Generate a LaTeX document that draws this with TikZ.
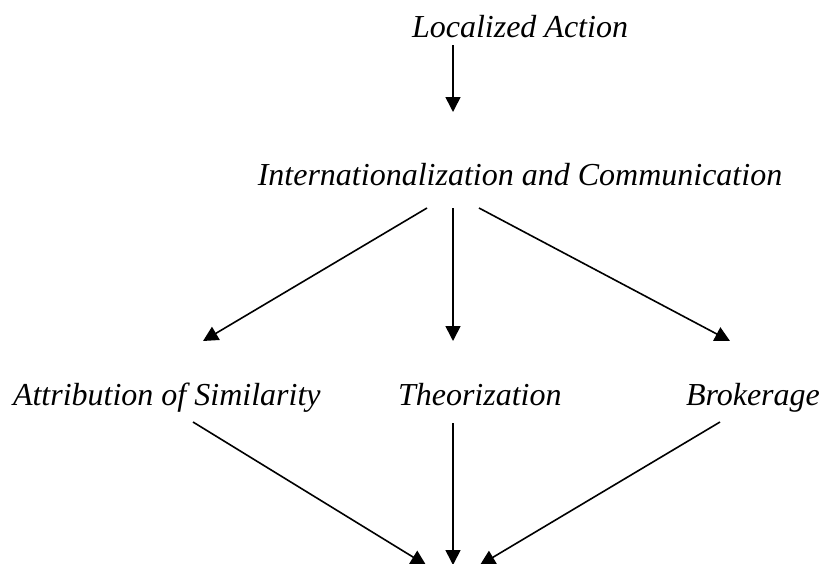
\documentclass[tikz,border=0pt]{standalone}
\usepackage{fontspec}
\setmainfont{Liberation Serif}
\usetikzlibrary{arrows.meta,calc}
\begin{document}
\begin{tikzpicture}[x=1pt,y=-1pt,
  lbl/.style={inner sep=0pt,outer sep=0pt,font=\fontsize{32}{38}\selectfont\itshape},
  arr/.style={line width=1.6pt,-{Triangle[length=15pt,width=15pt]}}]
\useasboundingbox (0,0) rectangle (821,563);
\node[lbl,anchor=base] (loc) at (520,37) {Localized Action};
\node[lbl,anchor=base] (int) at (520,185) {Internationalization and Communication};
\node[lbl,anchor=base west] (attr) at (13,405) {Attribution of Similarity};
\node[lbl,anchor=base west] (theo) at (398,405) {Theorization};
\node[lbl,anchor=base west] (brok) at (686,405) {Brokerage};
\coordinate (t1) at (426,565);
\coordinate (t2) at (453,565);
\coordinate (t3) at (480,565);
\draw[arr] ($(loc.base)+(-67,8)$) -- ($(int.base)+(-67,-73)$);
\draw[arr] ($(int.base)+(-93,23)$) -- ($(attr.base west)+(190,-64)$);
\draw[arr] ($(int.base)+(-67,23)$) -- ($(theo.base west)+(55,-64)$);
\draw[arr] ($(int.base)+(-41,23)$) -- ($(brok.base west)+(44,-64)$);
\draw[arr] ($(attr.base west)+(180,17)$) -- (t1);
\draw[arr] ($(theo.base west)+(55,18)$) -- (t2);
\draw[arr] ($(brok.base west)+(34,17)$) -- (t3);
\end{tikzpicture}
\end{document}
